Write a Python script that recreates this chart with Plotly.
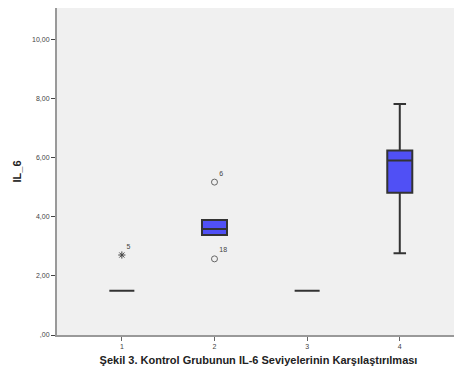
import plotly.graph_objects as go

groups = [1, 2, 3, 4]
q1 = [1.5, 3.39, 1.5, 4.82]
median = [1.5, 3.59, 1.5, 5.91]
q3 = [1.5, 3.90, 1.5, 6.25]
lower = [1.5, 3.39, 1.5, 2.77]
upper = [1.5, 3.90, 1.5, 7.83]

star_x = [1]
star_y = [2.71]
star_lbl = ["5"]
circ_x = [2, 2]
circ_y = [5.18, 2.58]
circ_lbl = ["6", "18"]

ytick_vals = [0, 2, 4, 6, 8, 10]
ytick_text = [",00", "2,00", "4,00", "6,00", "8,00", "10,00"]

fig = go.Figure()
fig.add_trace(go.Box(
    x=groups, q1=q1, median=median, q3=q3, lowerfence=lower, upperfence=upper,
    width=0.27, whiskerwidth=0.5,
    fillcolor="#5050F5", line=dict(color="#333333", width=2),
    showlegend=False, hoverinfo="skip",
))
fig.add_trace(go.Scatter(
    x=star_x, y=star_y, mode="markers+text", text=star_lbl,
    textposition="top right", textfont=dict(size=7, color="#444"),
    marker=dict(symbol="asterisk", size=6, color="#444", line=dict(width=1, color="#444")),
    showlegend=False,
))
fig.add_trace(go.Scatter(
    x=circ_x, y=circ_y, mode="markers+text", text=circ_lbl,
    textposition="top right", textfont=dict(size=7, color="#444"),
    marker=dict(symbol="circle-open", size=6, color="#666", line=dict(width=1)),
    showlegend=False,
))

fig.update_layout(
    width=454, height=363,
    margin=dict(l=49, r=2, t=0, b=36),
    paper_bgcolor="white", plot_bgcolor="#F0F0F0",
    font=dict(family="Arial, Liberation Sans, sans-serif", color="#333"),
    xaxis=dict(
        range=[0.3, 4.65], tickvals=groups, ticktext=[str(g) for g in groups],
        ticks="outside", ticklen=4, tickcolor="#666", showgrid=False, zeroline=False,
        showline=True, linecolor="#999", linewidth=2, mirror=True, automargin=False,
        tickfont=dict(size=7, color="#444"),
        title=dict(text="<b>Şekil 3. Kontrol Grubunun IL-6 Seviyelerinin Karşılaştırılması</b>",
                   font=dict(size=11, color="#222"), standoff=7),
    ),
    yaxis=dict(
        range=[0, 11.08], tickvals=ytick_vals, ticktext=ytick_text,
        ticks="outside", ticklen=4, tickcolor="#444", showgrid=False, zeroline=False,
        showline=True, linecolor="#999", linewidth=2, mirror=True, automargin=False,
        tickfont=dict(size=7, color="#444"),
        title=dict(text="<b>IL_6</b>", font=dict(size=11, color="#222"), standoff=8),
    ),
)
fig.write_html("out.html")
